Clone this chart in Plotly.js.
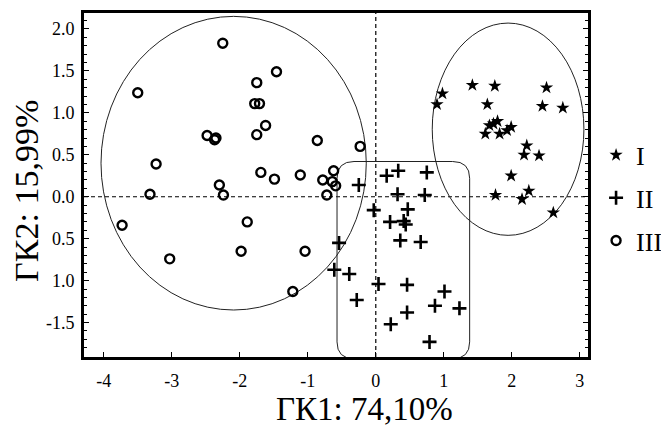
<!DOCTYPE html>
<html>
<head>
<meta charset="utf-8">
<script src="https://cdn.plot.ly/plotly-3.0.1.min.js"></script>
<style>html,body{margin:0;padding:0;background:#fff;}#chart{width:661px;height:432px;}</style>
</head>
<body>
<div id="chart"></div>
<script>
// Group I (*)
const groupI_x = [1.42, 1.75, 2.51, 0.98, 0.90, 1.64, 2.45, 2.75, 1.79, 1.73, 1.67, 1.99, 1.93, 1.61, 1.82, 2.22, 2.18, 2.40, 1.99, 2.25, 1.76, 2.15, 2.61];
const groupI_y = [1.33, 1.32, 1.30, 1.23, 1.10, 1.10, 1.08, 1.06, 0.90, 0.87, 0.85, 0.83, 0.79, 0.75, 0.75, 0.61, 0.50, 0.49, 0.25, 0.07, 0.02, -0.03, -0.19];
// Group II (+)
const groupII_x = [0.16, 0.33, 0.75, -0.25, 0.32, 0.72, -0.03, 0.47, 0.21, 0.41, 0.44, 0.36, 0.66, -0.54, -0.61, -0.39, 0.04, 0.46, 1.01, -0.28, 0.87, 1.23, 0.46, 0.22, 0.79];
const groupII_y = [0.25, 0.31, 0.29, 0.14, 0.03, 0.02, -0.16, -0.15, -0.30, -0.29, -0.33, -0.52, -0.54, -0.55, -0.87, -0.92, -1.04, -1.05, -1.13, -1.23, -1.30, -1.33, -1.38, -1.52, -1.73];
// Group III (o)
const groupIII_x = [-2.25, -1.46, -3.50, -1.75, -1.78, -1.71, -1.62, -1.75, -2.48, -2.35, -2.37, -0.86, -0.23, -3.23, -1.69, -1.49, -1.11, -0.78, -0.62, -0.64, -0.59, -2.30, -3.32, -2.24, -0.72, -3.73, -1.89, -3.03, -1.98, -1.04, -1.22];
const groupIII_y = [1.83, 1.49, 1.24, 1.36, 1.11, 1.11, 0.85, 0.74, 0.73, 0.70, 0.68, 0.67, 0.60, 0.39, 0.29, 0.21, 0.26, 0.20, 0.31, 0.18, 0.13, 0.14, 0.03, 0.02, 0.02, -0.34, -0.30, -0.74, -0.65, -0.65, -1.13];

const groupNames = ["I", "II", "III"];
const yTickVals = [2.0, 1.5, 1.0, 0.5, 0.0, -0.5, -1.0, -1.5];
const yTickText = ["2.0", "1.5", "1.0", "0.5", "0.0", "0.5", "1.0", "-1.5"];
const xTickVals = [-4, -3, -2, -1, 0, 1, 2, 3];
const xTickText = ["-4", "-3", "-2", "-1", "0", "1", "2", "3"];
const xTitle = "ГК1: 74,10%";
const yTitle = "ГК2: 15,99%";

// Cluster outlines [x0, x1, y0, y1]
const ellipseI = [0.83, 3.06, -0.46, 2.07];
const ellipseIII = [-4.04, -0.14, -1.35, 2.15];
const rectII = [-0.57, 1.38, -1.93, 0.42];

const serif = "Liberation Serif, Times New Roman, serif";

const traces = [
  {x: groupI_x, y: groupI_y, name: groupNames[0], type: "scatter", mode: "markers", legendgroup: "g1",
   marker: {symbol: "star", size: 10, color: "#000"}},
  {x: groupII_x, y: groupII_y, name: groupNames[1], type: "scatter", mode: "markers", legendgroup: "g2",
   marker: {symbol: "cross-thin", size: 10, color: "#000", line: {color: "#000", width: 2.6}}},
  {x: groupIII_x, y: groupIII_y, name: groupNames[2], type: "scatter", mode: "markers", legendgroup: "g3",
   marker: {symbol: "circle-open", size: 9, color: "#000", line: {color: "#000", width: 2.4}}}
];

function roundedRect(b, rx, ry) {
  const [x0, x1, y0, y1] = b;
  return `M ${x0 + rx},${y1} L ${x1 - rx},${y1} Q ${x1},${y1} ${x1},${y1 - ry} L ${x1},${y0 + ry} Q ${x1},${y0} ${x1 - rx},${y0} L ${x0 + rx},${y0} Q ${x0},${y0} ${x0},${y0 + ry} L ${x0},${y1 - ry} Q ${x0},${y1} ${x0 + rx},${y1} Z`;
}

const shapes = [
  {type: "line", xref: "x", yref: "paper", x0: 0, x1: 0, y0: 0, y1: 1, layer: "below", line: {color: "#000", width: 1.2, dash: "4px,3px"}},
  {type: "line", xref: "paper", yref: "y", x0: 0, x1: 1, y0: 0, y1: 0, layer: "below", line: {color: "#000", width: 1.2, dash: "4px,3px"}},
  {type: "circle", xref: "x", yref: "y", x0: ellipseIII[0], x1: ellipseIII[1], y0: ellipseIII[2], y1: ellipseIII[3], layer: "below", line: {color: "#222", width: 1}},
  {type: "circle", xref: "x", yref: "y", x0: ellipseI[0], x1: ellipseI[1], y0: ellipseI[2], y1: ellipseI[3], layer: "below", line: {color: "#222", width: 1}},
  {type: "path", xref: "x", yref: "y", path: roundedRect(rectII, 0.25, 0.2), layer: "below", line: {color: "#222", width: 1}}
];

const annotations = [
  {text: xTitle, xref: "paper", yref: "paper", x: 0.556, y: -0.151, xanchor: "center", yanchor: "middle", showarrow: false,
   font: {family: serif, size: 33, color: "#000"}},
  {text: yTitle, xref: "paper", yref: "paper", x: -0.113, y: 0.483, xanchor: "center", yanchor: "middle", showarrow: false,
   textangle: -90, font: {family: serif, size: 34, color: "#000"}}
];

const layout = {
  width: 661, height: 432,
  margin: {l: 84, r: 73, t: 13, b: 75, autoexpand: false},
  paper_bgcolor: "#fff", plot_bgcolor: "#fff",
  font: {family: serif, color: "#000", size: 18},
  showlegend: true,
  legend: {x: 1.016, xanchor: "left", y: 0.462, yanchor: "middle", font: {family: serif, size: 26, color: "#000"},
           tracegroupgap: 6, itemwidth: 30, bgcolor: "rgba(0,0,0,0)"},
  xaxis: {range: [-4.29, 3.12], tickvals: xTickVals, ticktext: xTickText, showgrid: false, zeroline: false, automargin: false,
          showline: true, linewidth: 3, linecolor: "#000", mirror: true, ticks: "inside", ticklen: 5, tickcolor: "#000",
          ticklabelstandoff: 5, tickfont: {family: serif, size: 18}},
  yaxis: {range: [-1.91, 2.19], tickvals: yTickVals, ticktext: yTickText, showgrid: false, zeroline: false, automargin: false,
          showline: true, linewidth: 3, linecolor: "#000", mirror: "allticks", ticks: "inside", ticklen: 5, tickcolor: "#000",
          minor: {dtick: 0.1, ticks: "inside", ticklen: 3, tickcolor: "#000", showgrid: false},
          ticklabelstandoff: 3, tickfont: {family: serif, size: 18}},
  shapes: shapes,
  annotations: annotations
};

Plotly.newPlot("chart", traces, layout, {displayModeBar: false, staticPlot: true});
</script>
</body>
</html>
